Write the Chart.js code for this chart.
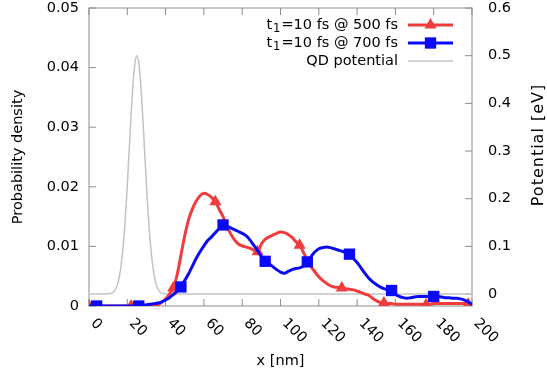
<!DOCTYPE html>
<html>
<head>
<meta charset="utf-8">
<script src="https://cdn.jsdelivr.net/npm/chart.js@4"></script>
<style>
html, body { margin: 0; padding: 0; background: #fff; }
#wrap { width: 547px; height: 376px; }
</style>
</head>
<body>
<div id="wrap"><canvas id="wavePacket"></canvas></div>
<script>
// x grid [nm]
const xNm = [
	0, 2, 4, 6, 8, 10, 12, 14, 16, 18,
	20, 22, 24, 26, 28, 30, 32, 34, 36, 38,
	40, 42, 44, 46, 48, 50, 52, 54, 56, 58,
	60, 62, 64, 66, 68, 70, 72, 74, 76, 78,
	80, 82, 84, 86, 88, 90, 92, 94, 96, 98,
	100, 102, 104, 106, 108, 110, 112, 114, 116, 118,
	120, 122, 124, 126, 128, 130, 132, 134, 136, 138,
	140, 142, 144, 146, 148, 150, 152, 154, 156, 158,
	160, 162, 164, 166, 168, 170, 172, 174, 176, 178,
	180, 182, 184, 186, 188, 190, 192, 194, 196, 198,
	200,
];
// probability density, t1=10 fs @ 500 fs
const dens500 = [
	0, 0, 0, 0, 0, 0, 0, 0, 0, 0,
	0, 0, 0, 0, 0, 0, 0, 0, 0.0002, 0.0006,
	0.0012, 0.002, 0.003, 0.0052, 0.0085, 0.0118, 0.0145, 0.0163, 0.0176, 0.0185,
	0.0189, 0.0187, 0.0182, 0.0175, 0.0162, 0.015, 0.0134, 0.0121, 0.0111, 0.0104,
	0.0101, 0.0099, 0.0097, 0.0094, 0.0091, 0.0104, 0.0112, 0.0116, 0.0119, 0.0122,
	0.0124, 0.0123, 0.012, 0.0115, 0.0108, 0.0102, 0.009, 0.0077, 0.0066, 0.0057,
	0.0049, 0.0043, 0.0038, 0.0034, 0.0032, 0.0031, 0.003, 0.0029, 0.0028, 0.0027,
	0.0025, 0.0023, 0.002, 0.0018, 0.0013, 0.0009, 0.0006, 0.0005, 0.0004, 0.0004,
	0.0003, 0.0003, 0.0003, 0.0003, 0.0003, 0.0003, 0.0003, 0.0003, 0.0002, 0.0003,
	0.0004, 0.0004, 0.0004, 0.0004, 0.0004, 0.0004, 0.0004, 0.0004, 0.0004, 0.0003,
	0.0002,
];
// probability density, t1=10 fs @ 700 fs
const dens700 = [
	0, 0, 0, 0, 0, 0, 0, 0, 0, 0,
	0, 0, 0, 0, 0.0001, 0.0002, 0.0003, 0.0004, 0.0005, 0.0007,
	0.001, 0.0014, 0.0019, 0.0025, 0.0032, 0.0043, 0.0054, 0.0067, 0.008, 0.0091,
	0.0101, 0.011, 0.0116, 0.0123, 0.013, 0.0136, 0.0134, 0.0131, 0.0128, 0.0125,
	0.0122, 0.0118, 0.0111, 0.0102, 0.0093, 0.0083, 0.0075, 0.0071, 0.0066, 0.0061,
	0.0057, 0.0055, 0.0058, 0.0061, 0.0063, 0.0064, 0.0067, 0.0074, 0.0083, 0.0091,
	0.0096, 0.0098, 0.0099, 0.0098, 0.0096, 0.0094, 0.0092, 0.009, 0.0087, 0.008,
	0.0073, 0.0064, 0.0055, 0.0047, 0.0041, 0.0036, 0.0032, 0.0029, 0.0027, 0.0026,
	0.002, 0.0016, 0.0014, 0.0013, 0.0014, 0.0015, 0.0016, 0.0016, 0.0016, 0.0016,
	0.0016, 0.0016, 0.0015, 0.0014, 0.0014, 0.0013, 0.0013, 0.0012, 0.001, 0.0007,
	0.0003,
];
// marker positions (pointinterval)
const marks500 = [0, 22, 44, 66, 88, 110, 132, 154, 176, 198];
const marks700 = [4, 26, 48, 70, 92, 114, 136, 158, 180];

// QD potential [eV]
const potX = [0, 8, 10, 11, 12, 13, 14, 15, 16, 17, 18, 19, 20, 21, 22, 23, 24, 25,
	26, 27, 28, 29, 30, 31, 32, 33, 34, 35, 36, 37, 38, 39, 40, 42, 200];
const potEv = [0, 0, 0.0005, 0.001, 0.002, 0.005, 0.011, 0.022, 0.04, 0.068, 0.108, 0.162, 0.229, 0.303, 0.377, 0.441, 0.485, 0.5,
	0.485, 0.441, 0.377, 0.303, 0.229, 0.162, 0.108, 0.068, 0.04, 0.022, 0.011, 0.005, 0.002, 0.001, 0.0005, 0, 0];

const xTicks = [0, 20, 40, 60, 80, 100, 120, 140, 160, 180, 200];
const yTicks = [0, 0.01, 0.02, 0.03, 0.04, 0.05];
const y2Ticks = [0, 0.1, 0.2, 0.3, 0.4, 0.5, 0.6];

const RED = "#f03c3c";
const BLUE = "#0a0af5";
const GREY = "#c4c4c4";
const FRAME = "#8c8c8c";
const FONT = "'DejaVu Sans', sans-serif";
const FSIZE = 14.5;
const TRI_R = 7;
const SQ_R = 8;

const legendItems = [
	{ sub: true, text: "=10 fs @ 500 fs", color: RED, width: 3, style: "triangle", r: TRI_R },
	{ sub: true, text: "=10 fs @ 700 fs", color: BLUE, width: 3, style: "rect", r: SQ_R },
	{ sub: false, text: "QD potential", color: GREY, width: 1.5, style: null },
];

// keep the plot frame where gnuplot had it
function noEdgePadding(s) {
	s.paddingTop = 0;
	s.paddingBottom = 0;
}

const gnuplotLook = {
	id: "gnuplotLook",
	beforeDatasetsDraw(chart) {
		const { ctx, chartArea: a, scales } = chart;
		ctx.save();
		ctx.strokeStyle = FRAME;
		ctx.lineWidth = 1;
		ctx.strokeRect(a.left, a.top, a.right - a.left, a.bottom - a.top);
		ctx.beginPath();
		xTicks.forEach((v) => {
			const px = scales.x.getPixelForValue(v);
			ctx.moveTo(px, a.bottom);
			ctx.lineTo(px, a.bottom - 7);
			ctx.moveTo(px, a.top);
			ctx.lineTo(px, a.top + 7);
		});
		yTicks.forEach((v) => {
			const py = scales.y.getPixelForValue(v);
			ctx.moveTo(a.left, py);
			ctx.lineTo(a.left + 7, py);
		});
		y2Ticks.forEach((v) => {
			const py = scales.y2.getPixelForValue(v);
			ctx.moveTo(a.right, py);
			ctx.lineTo(a.right - 7, py);
		});
		ctx.stroke();
		ctx.restore();
	},
	afterDraw(chart) {
		const { ctx, chartArea: a, scales } = chart;
		ctx.save();
		ctx.fillStyle = "#000";
		ctx.font = FSIZE + "px " + FONT;
		// rotated x tick labels
		ctx.textAlign = "left";
		ctx.textBaseline = "middle";
		xTicks.forEach((v) => {
			const px = scales.x.getPixelForValue(v);
			ctx.save();
			ctx.translate(px + 4, a.bottom + 15);
			ctx.rotate(Math.PI / 4);
			ctx.fillText(String(v), 0, 0);
			ctx.restore();
		});
		// y2 title, reading bottom to top
		ctx.save();
		ctx.translate(538.5, 145);
		ctx.rotate(-Math.PI / 2);
		ctx.font = "16px " + FONT;
		ctx.letterSpacing = "1px";
		ctx.textAlign = "center";
		ctx.fillText("Potential [eV]", 0, 0);
		ctx.restore();
		// legend
		const textRight = 398;
		const lineL = 408;
		const lineR = 453;
		legendItems.forEach((it, i) => {
			const y = 25 + i * 18;
			ctx.font = FSIZE + "px " + FONT;
			ctx.textAlign = "right";
			ctx.textBaseline = "middle";
			ctx.fillStyle = "#000";
			ctx.fillText(it.text, textRight, y);
			if (it.sub) {
				let x = textRight - ctx.measureText(it.text).width;
				ctx.font = (FSIZE * 0.8) + "px " + FONT;
				ctx.fillText("1", x - 1, y + 4);
				x -= ctx.measureText("1").width + 2;
				ctx.font = FSIZE + "px " + FONT;
				ctx.fillText("t", x, y);
			}
			ctx.strokeStyle = it.color;
			ctx.lineWidth = it.width;
			ctx.beginPath();
			ctx.moveTo(lineL, y);
			ctx.lineTo(lineR, y);
			ctx.stroke();
			if (it.style) {
				ctx.fillStyle = it.color;
				Chart.helpers.drawPoint(ctx, { pointStyle: it.style, radius: it.r, borderWidth: 0, rotation: 0 }, (lineL + lineR) / 2, y);
			}
		});
		ctx.restore();
	},
};

Chart.defaults.font.family = FONT;
Chart.defaults.font.size = FSIZE;
Chart.defaults.color = "#000";

const ctx = document.getElementById("wavePacket");
new Chart(ctx, {
	type: "line",
	data: {
		datasets: [
			{
				label: "t1=10 fs @ 700 fs",
				data: xNm.map((x, i) => ({ x: x, y: dens700[i] })),
				yAxisID: "y",
				borderColor: BLUE,
				backgroundColor: BLUE,
				borderWidth: 3,
				cubicInterpolationMode: "monotone",
				pointStyle: "rect",
				pointRadius: (c) => (marks700.includes(xNm[c.dataIndex]) ? SQ_R : 0),
				pointBorderWidth: 0,
				order: 1,
			},
			{
				label: "t1=10 fs @ 500 fs",
				data: xNm.map((x, i) => ({ x: x, y: dens500[i] })),
				yAxisID: "y",
				borderColor: RED,
				backgroundColor: RED,
				borderWidth: 3,
				cubicInterpolationMode: "monotone",
				pointStyle: "triangle",
				pointRadius: (c) => (marks500.includes(xNm[c.dataIndex]) ? TRI_R : 0),
				pointBorderWidth: 0,
				order: 2,
			},
			{
				label: "QD potential",
				data: potX.map((x, i) => ({ x: x, y: potEv[i] })),
				yAxisID: "y2",
				borderColor: GREY,
				borderWidth: 1.5,
				tension: 0.3,
				pointRadius: 0,
				order: 3,
			},
		],
	},
	options: {
		responsive: true,
		maintainAspectRatio: false,
		animation: false,
		events: [],
		layout: { padding: { top: 8, left: 0, right: 0, bottom: 0 } },
		plugins: {
			legend: { display: false },
			tooltip: { enabled: false },
		},
		scales: {
			x: {
				type: "linear",
				min: 0,
				max: 200,
				grid: { display: false },
				border: { display: false },
				ticks: { display: false },
				afterBuildTicks: (s) => { s.ticks = xTicks.map((v) => ({ value: v })); },
				afterFit: (s) => { s.height = 70; s.paddingLeft = 0; s.paddingRight = 0; },
				title: { display: true, text: "x [nm]", padding: { top: 0, bottom: 6.3 } },
			},
			y: {
				position: "left",
				min: 0,
				max: 0.05,
				grid: { display: false, drawTicks: false },
				border: { display: false },
				ticks: { padding: 10, font: { lineHeight: 1 } },
				afterBuildTicks: (s) => { s.ticks = yTicks.map((v) => ({ value: v })); },
				afterFit: (s) => { s.width = 89; noEdgePadding(s); },
				title: { display: true, text: "Probability density", padding: { top: 9.3, bottom: 0 } },
			},
			y2: {
				position: "right",
				min: -0.025,
				max: 0.6,
				grid: { display: false, drawTicks: false },
				border: { display: false },
				ticks: { padding: 16, font: { lineHeight: 1 } },
				afterBuildTicks: (s) => { s.ticks = y2Ticks.map((v) => ({ value: v })); },
				afterFit: (s) => { s.width = 75; noEdgePadding(s); },
				title: { display: false },
			},
		},
	},
	plugins: [gnuplotLook],
});
</script>
</body>
</html>
